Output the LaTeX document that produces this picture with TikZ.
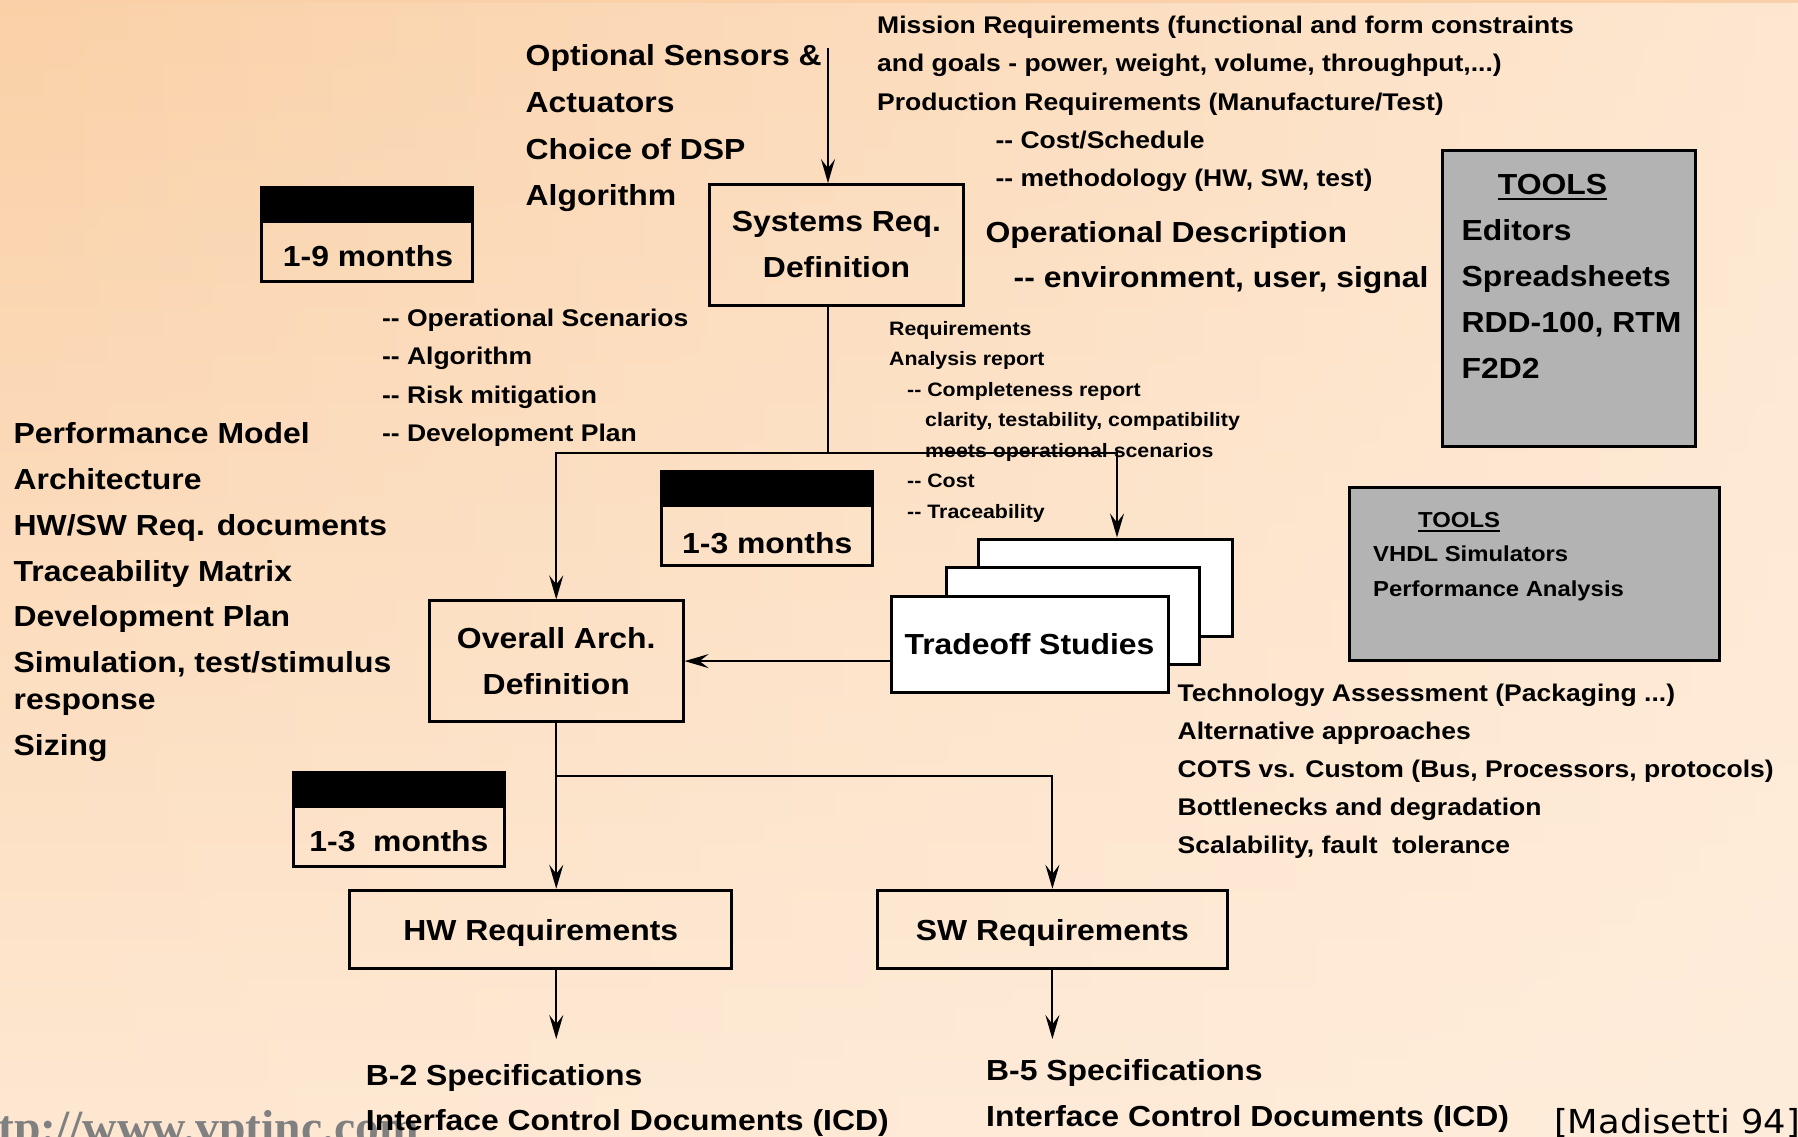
\documentclass[tikz,border=0pt]{standalone}
\usepackage{fontspec}
\usetikzlibrary{arrows.meta,fadings}
\newfontfamily\abfont[FakeStretch=1.1]{Liberation Sans}
\newfontfamily\dvfont[FakeStretch=1.07]{DejaVu Sans}
\newfontfamily\tmfont{Liberation Serif}
\definecolor{bgA}{RGB}{248,200,152}
\definecolor{bgM}{RGB}{254,224,197}
\definecolor{bgB}{RGB}{255,239,223}
\definecolor{toolgray}{RGB}{179,179,179}
\definecolor{urlgray}{RGB}{128,128,128}
\newcommand\fBig{\abfont\bfseries\fontsize{29}{46}\selectfont}
\newcommand\fMid{\abfont\bfseries\fontsize{24.1}{38.5}\selectfont}
\newcommand\fSml{\abfont\bfseries\fontsize{19.4}{30.5}\selectfont}
\newcommand\fTol{\abfont\bfseries\fontsize{21.7}{34.5}\selectfont}
\tikzset{
 tb/.style={anchor=base west, inner sep=0pt, font=\fBig},
 tm/.style={anchor=base west, inner sep=0pt, font=\fMid},
 tsm/.style={anchor=base west, inner sep=0pt, font=\fSml},
 tt/.style={anchor=base west, inner sep=0pt, font=\fTol},
 box/.style={draw, line width=3pt, inner sep=0pt, font=\fBig, align=center},
 onebox/.style={draw, line width=3pt, inner sep=0pt, font=\fBig, text height=21pt, text depth=0pt},
 durbox/.style={draw, line width=3pt, inner sep=0pt},
 durtxt/.style={anchor=base, inner sep=0pt, font=\fBig},
 ln/.style={line width=2pt},
 arr/.style={line width=2pt, -{Stealth[length=24pt,width=14pt,inset=9pt]}},
 toolbox/.style={draw, line width=3pt, fill=toolgray, inner sep=0pt},
 stackbox/.style={draw, line width=3pt, fill=white, inner sep=0pt, font=\fBig, text height=21pt, text depth=0pt},
}
\begin{document}
\begin{tikzpicture}[x=1pt,y=-1pt]
\useasboundingbox (0,0) rectangle (1798,1137);
\begin{scope}
\clip (0,0) rectangle (1798,1137);
\shade[top color=bgA, middle color=bgM, bottom color=bgB] (0,-400) rectangle (1798,1500);
\fill[bgB, path fading=west, fill opacity=0.75] (0,0) rectangle (1798,1137);
% url watermark
\node[anchor=base west, inner sep=0pt, font=\tmfont\bfseries\fontsize{47.6}{50}\selectfont, text=urlgray] (url) at (-2,1143) {tp://www.vptinc.com};
\end{scope}

% top-left inputs
\node[tb] (in1) at (525.5,66) {Optional Sensors \&};
\node[tb] (in2) at (525.5,112.7) {Actuators};
\node[tb] (in3) at (525.5,159.4) {Choice of DSP};
\node[tb] (in4) at (525.5,205.5) {Algorithm};

% mission requirements
\node[tm] (m1) at (877,33.3) {Mission Requirements (functional and form constraints};
\node[tm] (m2) at (877,71.8) {and goals - power, weight, volume, throughput,...)};
\node[tm] (m3) at (877,110.3) {Production Requirements (Manufacture/Test)};
\node[tm] (m4) at (995.3,148) {-{}- Cost/Schedule};
\node[tm] (m5) at (995.3,186.5) {-{}- methodology (HW, SW, test)};

% operational description
\node[tb] (od1) at (985.4,242.7) {Operational Description};
\node[tb] (od2) at (1013.5,287.3) {-{}- environment, user, signal};

% tools box 1
\node[toolbox, minimum width=253.6pt, minimum height=296.7pt] (tools1) at (1568.8,298.35) {};
\node[tb] (tl1) at (1497.7,194) {TOOLS};
\draw[line width=2.5pt] ([yshift=-5pt]tl1.base west) -- ([yshift=-5pt]tl1.base east);
\node[tb] (tl1a) at (1461.4,240) {Editors};
\node[tb] (tl1b) at (1461.4,286) {Spreadsheets};
\node[tb] (tl1c) at (1461.4,332) {RDD-100, RTM};
\node[tb] (tl1d) at (1461.4,378) {F2D2};

% tools box 2
\node[toolbox, minimum width=370.2pt, minimum height=173.4pt] (tools2) at (1534.3,574) {};
\node[tt] (tl2) at (1418,527.3) {TOOLS};
\draw[line width=2pt] ([yshift=-3.5pt]tl2.base west) -- ([yshift=-3.5pt]tl2.base east);
\node[tt] (tl2a) at (1373,561.7) {VHDL Simulators};
\node[tt] (tl2b) at (1373,596) {Performance Analysis};

% duration boxes
\node[durbox, minimum width=210.6pt, minimum height=93.7pt] (d1) at (367.1,234.15) {};
\fill (d1.north west) rectangle ([yshift=-37pt]d1.north east);
\node[durtxt] (d1t) at (368,266.7) {1-9 months};

\node[durbox, minimum width=210.7pt, minimum height=94pt] (d2) at (767.25,518.7) {};
\fill (d2.north west) rectangle ([yshift=-37pt]d2.north east);
\node[durtxt] (d2t) at (767.25,553.3) {1-3 months};

\node[durbox, minimum width=211.3pt, minimum height=93.7pt] (d3) at (398.95,819.15) {};
\fill (d3.north west) rectangle ([yshift=-37pt]d3.north east);
\node[durtxt] (d3t) at (398.95,851.5) {1-3\ \ months};

% systems req
\node[box, minimum width=253.4pt, minimum height=120.4pt] (sys) at (836.5,244.8) {Systems Req.\\Definition};

% scenario list
\node[tm] (sc1) at (381.8,326) {-{}- Operational Scenarios};
\node[tm] (sc2) at (381.8,364.6) {-{}- Algorithm};
\node[tm] (sc3) at (381.8,403.1) {-{}- Risk mitigation};
\node[tm] (sc4) at (381.8,441.5) {-{}- Development Plan};

% requirements analysis
\node[tsm] (ra1) at (889,335) {Requirements};
\node[tsm] (ra2) at (889,365.7) {Analysis report};
\node[tsm] (ra3) at (907,396) {-{}- Completeness report};
\node[tsm] (ra4) at (925,426.7) {clarity, testability, compatibility};
\node[tsm] (ra5) at (925,457) {meets operational scenarios};
\node[tsm] (ra6) at (907,487.5) {-{}- Cost};
\node[tsm] (ra7) at (907,518) {-{}- Traceability};

% left list
\node[tb] (l1) at (13.5,443.3) {Performance Model};
\node[tb] (l2) at (13.5,489.2) {Architecture};
\node[tb] (l3) at (13.5,535.1) {HW/SW Req. documents};
\node[tb] (l4) at (13.5,581) {Traceability Matrix};
\node[tb] (l5) at (13.5,626.9) {Development Plan};
\node[tb] (l6) at (13.5,672.5) {Simulation, test/stimulus};
\node[tb] (l7) at (13.5,709.5) {response};
\node[tb] (l8) at (13.5,755.5) {Sizing};

% overall arch
\node[box, minimum width=253.7pt, minimum height=120.4pt] (ov) at (556.25,661.1) {Overall Arch.\\Definition};

% tradeoff stack
\node[stackbox, minimum width=253.6pt, minimum height=97.5pt] (ts3) at (1105.2,587.75) {};
\node[stackbox, minimum width=253pt, minimum height=96.6pt] (ts2) at (1073.2,616) {};
\node[stackbox, minimum width=277pt, minimum height=96.6pt] (ts1) at (1029.5,644.3) {Tradeoff Studies};

% tradeoff list
\node[tm] (tr1) at (1177.5,701.7) {Technology Assessment (Packaging ...)};
\node[tm] (tr2) at (1177.5,739.5) {Alternative approaches};
\node[tm] (tr3) at (1177.5,777.7) {COTS vs. Custom (Bus, Processors, protocols)};
\node[tm] (tr4) at (1177.5,815.7) {Bottlenecks and degradation};
\node[tm] (tr5) at (1177.5,853.5) {Scalability, fault\ \ tolerance};

% HW / SW
\node[onebox, minimum width=382pt, minimum height=78.5pt] (hw) at (540.8,929.5) {HW Requirements};
\node[onebox, minimum width=350.4pt, minimum height=78.5pt] (sw) at (1052.4,929.5) {SW Requirements};

% specs
\node[tb] (b2a) at (365.7,1085) {B-2 Specifications};
\node[tb] (b2b) at (365.7,1130) {Interface Control Documents (ICD)};
\node[tb] (b5a) at (986,1080) {B-5 Specifications};
\node[tb] (b5b) at (986,1126.7) {Interface Control Documents (ICD)};

\node[anchor=base west, inner sep=0pt, font=\dvfont\fontsize{33}{36}\selectfont] (cite) at (1554,1133.3) {[Madisetti 94]};

% connectors
\coordinate (opt) at (828,48);
\draw[arr] (opt) -- (opt |- sys.north);
\coordinate (br) at (828,452.7);
\coordinate (brr) at (1117,452.7);
\draw[ln] (br |- sys.south) -- (br);
\draw[arr] (br) -| (ov.north);
\draw[arr] (br) -- (brr) -- (brr |- ts3.north);
\draw[arr] (ts1.west |- ov.east) -- (ov.east);
\coordinate (sp) at (556.25,775.5);
\draw[arr] (ov.south) -- (ov.south |- hw.north);
\draw[arr] (sp) -| (sw.north);
\coordinate (b2) at (556.25,1039);
\coordinate (b5) at (1052.4,1039);
\draw[arr] (b2 |- hw.south) -- (b2);
\draw[arr] (sw.south) -- (b5);
\end{tikzpicture}
\end{document}
